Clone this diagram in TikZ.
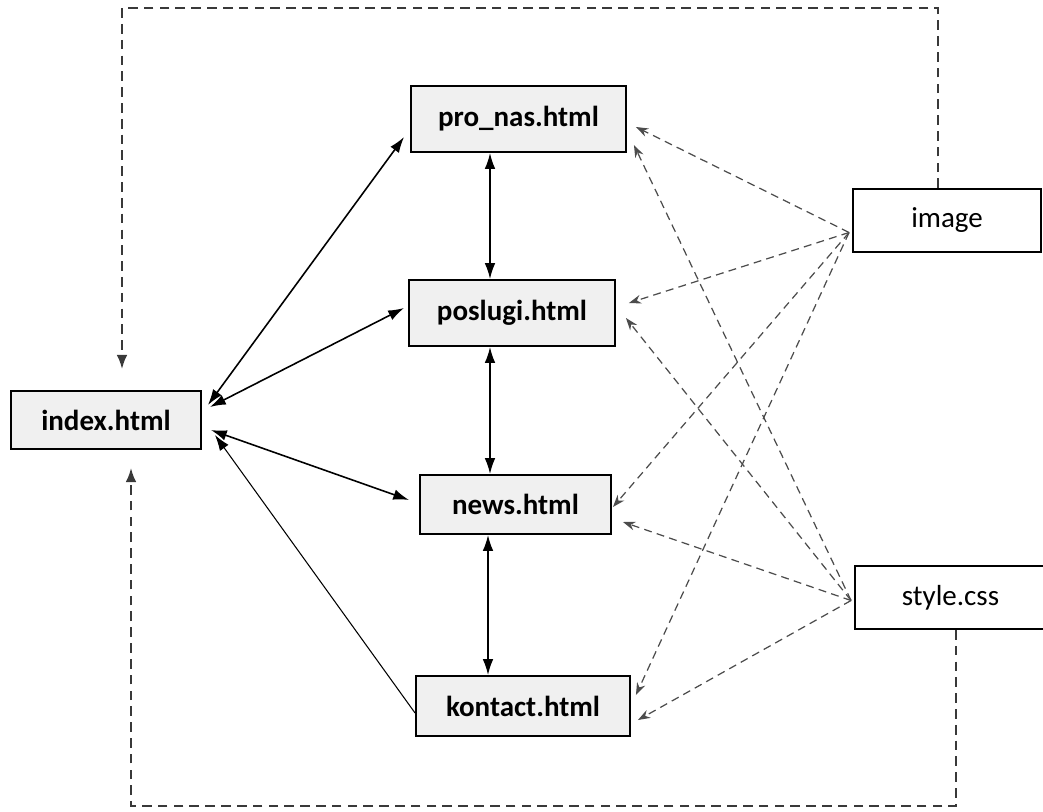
\documentclass[tikz,border=0pt]{standalone}
\usepackage{fontspec}
\setmainfont{Carlito}
\usetikzlibrary{arrows.meta,positioning}

\begin{document}
\begin{tikzpicture}[
            x = 0.02cm, y = -0.02cm,
            page/.style = {rectangle, draw, line width=1.1pt, fill=gray!12, inner sep=0pt,
                           font=\fontsize{16.5}{20}\selectfont\bfseries},
            asset/.style = {rectangle, draw, line width=1.1pt, fill=white, inner sep=0pt,
                            font=\fontsize{16.5}{20}\selectfont},
            navlink/.style = {line width=0.9pt, {Latex[length=9pt,width=6pt]}-{Latex[length=9pt,width=6pt]}},
            uses/.style = {gray!60!black, line width=0.7pt, dash pattern=on 4.5pt off 3pt,
                           -{Stealth[length=7pt,width=5pt]}},
            backlink/.style = {gray!45!black, line width=1.1pt, dash pattern=on 5.5pt off 3.5pt,
                               -{Latex[length=8pt,width=6pt]}}
                                 ]
            \useasboundingbox (0,0) rectangle (1043,811);
            \node[page, minimum width=3.8cm,  minimum height=1.16cm] (index)   at (106,420)   {index.html};
            \node[page, minimum width=4.3cm,  minimum height=1.32cm] (pronas)  at (518.5,119) {pro\_nas.html};
            \node[page, minimum width=4.12cm, minimum height=1.32cm] (poslugi) at (512,313)   {poslugi.html};
            \node[page, minimum width=3.82cm, minimum height=1.18cm] (news)    at (515.5,504.5) {news.html};
            \node[page, minimum width=4.28cm, minimum height=1.2cm]  (kontact) at (523,706)   {kontact.html};
            \node[asset, minimum width=3.76cm, minimum height=1.26cm] (image)    at (947,220.5) {image};
            \node[asset, minimum width=3.82cm, minimum height=1.26cm] (stylecss) at (950.5,597.5) {style.css};
            \coordinate (topleft) at (122,8);
            \coordinate (botleft) at (131,806);
            %
            \draw [navlink] ([shift={(6,-15)}]index.east) -- ([shift={(-6,18)}]pronas.west);
            \draw [navlink] ([shift={(8,-13)}]index.east) -- ([shift={(-4,-5)}]poslugi.west);
            \draw [navlink] ([shift={(9,10)}]index.east)  -- ([shift={(-10,-4.5)}]news.west);
            \draw [line width=0.6pt, -{Latex[length=9pt,width=6pt]}]
                  ([shift={(0,7)}]kontact.west) -- ([shift={(13,15)}]index.east);
            \draw [navlink] ([shift={(-28.5,0)}]pronas.south)  -- ([shift={(-22,0)}]poslugi.north);
            \draw [navlink] ([shift={(-22,0)}]poslugi.south)   -- ([shift={(-25.5,0)}]news.north);
            \draw [navlink] ([shift={(-27.5,0)}]news.south)    -- ([shift={(-35,0)}]kontact.north);
            %
            \draw [uses] ([shift={(-3,12)}]image.west) -- ([shift={(9,8)}]pronas.east);
            \draw [uses] ([shift={(-3,12)}]image.west) -- ([shift={(13,-10)}]poslugi.east);
            \draw [uses] ([shift={(-3,12)}]image.west) -- ([shift={(1,2.5)}]news.east);
            \draw [uses] ([shift={(-3,12)}]image.west) -- ([shift={(5,-11)}]kontact.east);
            \draw [uses] ([shift={(-3,3)}]stylecss.west) -- ([shift={(7,26)}]pronas.east);
            \draw [uses] ([shift={(-3,3)}]stylecss.west) -- ([shift={(10,5)}]poslugi.east);
            \draw [uses] ([shift={(-3,3)}]stylecss.west) -- ([shift={(11,17.5)}]news.east);
            \draw [uses] ([shift={(-3,3)}]stylecss.west) -- ([shift={(7,14)}]kontact.east);
            %
            \draw [backlink] ([shift={(-9,0)}]image.north) |- (topleft) -- ([shift={(16,-21)}]index.north);
            \draw [backlink] ([shift={(5.5,0)}]stylecss.south) |- (botleft) -- ([shift={(25,18)}]index.south);
\end{tikzpicture}
\end{document}
